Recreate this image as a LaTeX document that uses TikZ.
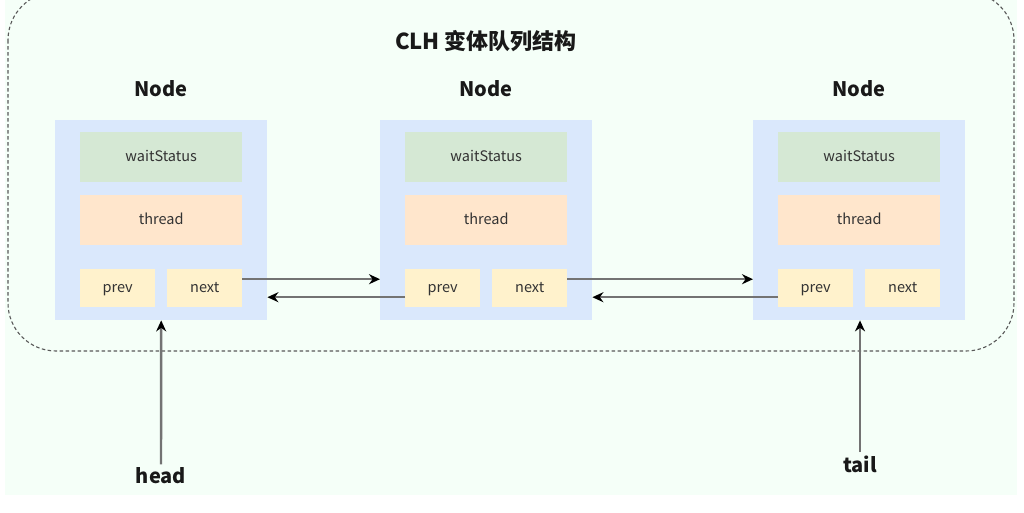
\documentclass[tikz,border=0pt]{standalone}
\usepackage{fontspec}
\setmainfont{Noto Sans CJK SC}
\usetikzlibrary{positioning,arrows.meta}

\definecolor{bgmint}{HTML}{F5FFF8}
\definecolor{nodeblue}{HTML}{DAE8FC}
\definecolor{wsgreen}{HTML}{D5E8D4}
\definecolor{thorange}{HTML}{FFE6CC}
\definecolor{ptryellow}{HTML}{FFF2CC}

\begin{document}
\begin{tikzpicture}[x=1pt,y=-1pt,
    >={Stealth[length=11pt,width=10pt,color=black]},
    field/.style={inner sep=0pt,anchor=north west,font=\fontsize{14.5}{16}\selectfont,
        text=black!80,text height=1.05em,text depth=0.2em},
    outer/.style={field,fill=nodeblue,minimum width=212pt,minimum height=200pt},
    wide/.style={field,minimum width=162pt,minimum height=50pt},
    ptr/.style={field,fill=ptryellow,minimum width=75pt,minimum height=38pt},
    heading/.style={font=\fontsize{20}{22}\selectfont\bfseries,text=black!90},
    link/.style={->,draw=black!55,line width=2.4pt}]
    % page and frame
    \fill[white] (0,0) rectangle (1024,512);
    \useasboundingbox (0,0) rectangle (1024,512);
    \fill[bgmint] (5,0) rectangle (1017,495);
    \draw[black!65,line width=1.1pt,dash pattern=on 3.5pt off 2.5pt,rounded corners=48pt]
        (8,-8) rectangle (1014,351);

    \node[heading,font=\fontsize{22}{24}\selectfont\bfseries] (title) at (486,41) {CLH 变体队列结构};

    % the three nodes
    \foreach \i/\x in {1/55,2/380,3/753} {
        \node[outer] (n\i) at (\x,120) {};
        \node[heading] (lbl\i) at (\x+106,89) {Node};
        \node[wide,fill=wsgreen] (ws\i) at (\x+25,132) {waitStatus};
        \node[wide,fill=thorange] (th\i) at (\x+25,195) {thread};
        \node[ptr] (pv\i) at (\x+25,269) {prev};
        \node[ptr] (nx\i) at (\x+112,269) {next};
    }

    % next / prev links
    \draw[link] ([yshift=9pt]nx1.east) -- ([yshift=9pt]nx1.east -| n2.west);
    \draw[link] ([yshift=-9pt]pv2.west) -- ([yshift=-9pt]pv2.west -| n1.east);
    \draw[link] ([yshift=9pt]nx2.east) -- ([yshift=9pt]nx2.east -| n3.west);
    \draw[link] ([yshift=-9pt]pv3.west) -- ([yshift=-9pt]pv3.west -| n2.east);

    % head and tail
    \node[heading] (head) at (161,476) {head};
    \node[heading] (tail) at (860,464) {tail};
    \draw[link] (head) -- (n1.south);
    \draw[link] (tail) -- (tail |- n3.south);
\end{tikzpicture}
\end{document}
